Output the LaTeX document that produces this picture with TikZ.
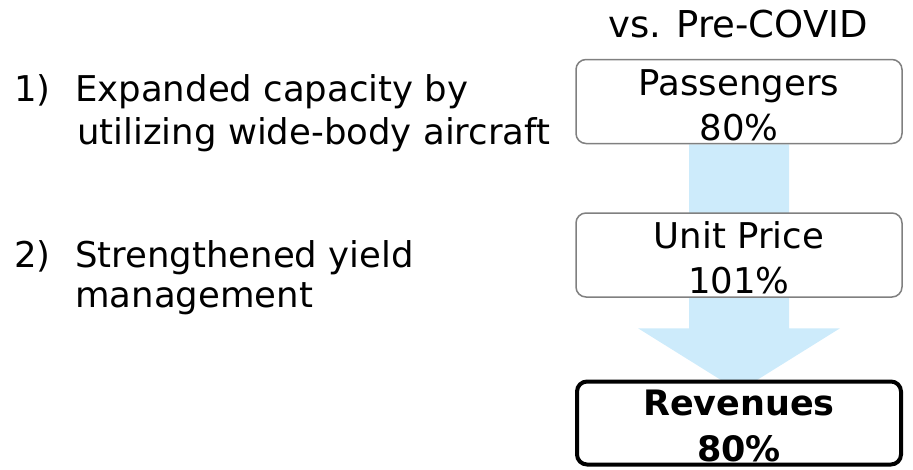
\documentclass[tikz,border=0pt]{standalone}
\usepackage{fontspec}
\setmainfont{DejaVu Sans}
\usetikzlibrary{backgrounds,calc}
\definecolor{arrowblue}{HTML}{CDEBFB}
\definecolor{boxgray}{HTML}{808080}
\begin{document}
\begin{tikzpicture}[x=1pt,y=-1pt,
  txt/.style={inner sep=0pt,font=\fontsize{35.5}{40}\selectfont},
  boldtxt/.style={inner sep=0pt,font=\fontsize{35}{40}\selectfont\bfseries},
  graybox/.style={draw=boxgray,line width=1.5pt,rounded corners=10pt,fill=white,minimum width=326pt,minimum height=84pt,inner sep=0pt},
  blackbox/.style={draw=black,line width=4pt,rounded corners=10pt,fill=white,minimum width=324pt,minimum height=83pt,inner sep=0pt}]
\useasboundingbox (0,0) rectangle (913,469);
% header
\node[inner sep=0pt,font=\fontsize{37}{40}\selectfont,anchor=base] (hdr) at (738,37) {vs. Pre-COVID};
% left texts
\node[txt,anchor=base west] (n1) at (14,101) {1)};
\node[txt,anchor=base west] (l1a) at (75,101) {Expanded capacity by};
\node[txt,anchor=base west] (l1b) at (77,144) {utilizing wide-body aircraft};
\node[txt,anchor=base west] (n2) at (14,267) {2)};
\node[txt,anchor=base west] (l2a) at (75,267) {Strengthened yield};
\node[txt,anchor=base west] (l2b) at (75,307) {management};
% boxes
\node[graybox] (pass) at (739,101.5) {};
\node[graybox] (unit) at (739,255) {};
\node[blackbox] (rev) at (739,423) {};
% box texts
\node[txt,anchor=base] (passt) at (pass.center |- 0,95) {Passengers};
\node[txt,anchor=base] (passv) at (pass.center |- 0,140) {80\%};
\node[txt,anchor=base] (unitt) at (unit.center |- 0,248) {Unit Price};
\node[txt,anchor=base] (unitv) at (unit.center |- 0,293) {101\%};
\node[boldtxt,anchor=base] (revt) at (rev.center |- 0,415) {Revenues};
\node[boldtxt,anchor=base] (revv) at (rev.center |- 0,461) {80\%};
% arrow
\begin{scope}[on background layer]
\fill[arrowblue] ($(pass.south)+(-50,0)$) -- ($(pass.south)+(50,0)$) -- ($(pass.south)+(50,184)$) -- ($(pass.south)+(101,184)$) -- ($(pass.south)+(0,247)$) -- ($(pass.south)+(-101,184)$) -- ($(pass.south)+(-50,184)$) -- cycle;
\end{scope}
\end{tikzpicture}
\end{document}
